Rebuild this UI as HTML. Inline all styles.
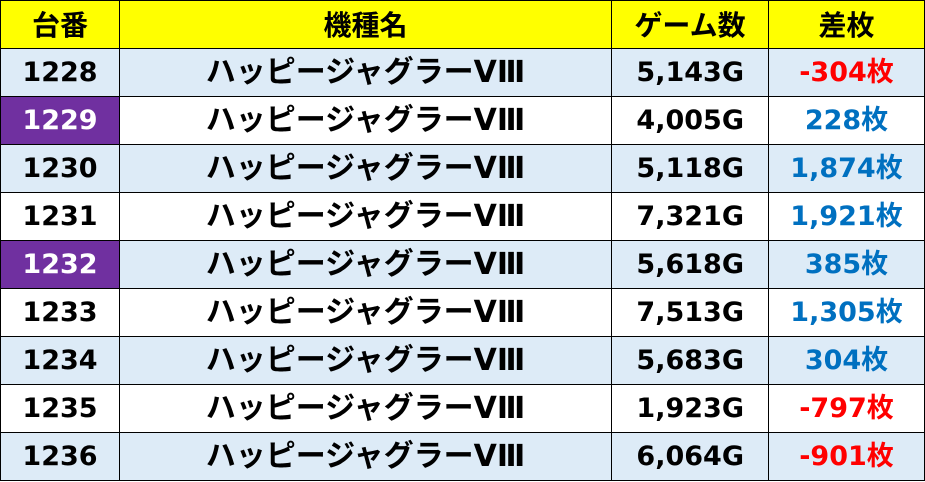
<!DOCTYPE html>
<html><head><meta charset="utf-8"><style>
body{margin:0;background:#fff;width:925px;height:482px;overflow:hidden}
table{border-collapse:collapse;position:absolute;left:0;top:0;width:924px;table-layout:fixed;font-family:"DejaVu Sans","Noto Sans CJK JP",sans-serif;font-weight:bold;font-size:27px}
td{border:1.5px solid #000;height:47px;padding:0;text-align:center;color:#000;line-height:47px;white-space:nowrap}
tr.h td{background:#ffff00;font-size:28px}
tr.a td{background:#ddebf7}
td.g{text-align:right;padding-right:24px}
td.n{font-size:30px}
td.p{background:#7030a0!important;color:#fff}
.b{color:#0070c0}.r{color:#ff0000}
.k{font-family:"Noto Sans CJK JP",sans-serif}
</style></head><body>
<table>
<colgroup><col style="width:119px"><col style="width:492px"><col style="width:157px"><col style="width:156px"></colgroup>
<tr class="h"><td class="k">台番</td><td class="k">機種名</td><td class="k">ゲーム数</td><td class="k">差枚</td></tr>
<tr class="a"><td>1228</td><td class="n">ハッピージャグラーVⅢ</td><td class="g">5,143G</td><td class="r">-304枚</td></tr>
<tr><td class="p">1229</td><td class="n">ハッピージャグラーVⅢ</td><td class="g">4,005G</td><td class="b">228枚</td></tr>
<tr class="a"><td>1230</td><td class="n">ハッピージャグラーVⅢ</td><td class="g">5,118G</td><td class="b">1,874枚</td></tr>
<tr><td>1231</td><td class="n">ハッピージャグラーVⅢ</td><td class="g">7,321G</td><td class="b">1,921枚</td></tr>
<tr class="a"><td class="p">1232</td><td class="n">ハッピージャグラーVⅢ</td><td class="g">5,618G</td><td class="b">385枚</td></tr>
<tr><td>1233</td><td class="n">ハッピージャグラーVⅢ</td><td class="g">7,513G</td><td class="b">1,305枚</td></tr>
<tr class="a"><td>1234</td><td class="n">ハッピージャグラーVⅢ</td><td class="g">5,683G</td><td class="b">304枚</td></tr>
<tr><td>1235</td><td class="n">ハッピージャグラーVⅢ</td><td class="g">1,923G</td><td class="r">-797枚</td></tr>
<tr class="a"><td>1236</td><td class="n">ハッピージャグラーVⅢ</td><td class="g">6,064G</td><td class="r">-901枚</td></tr>
</table>
</body></html>
